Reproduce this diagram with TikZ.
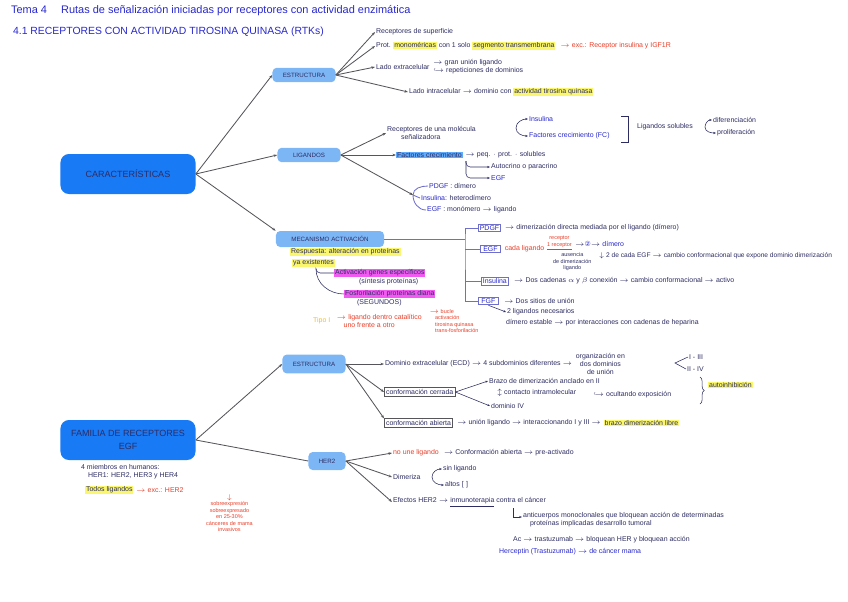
\documentclass[tikz,border=0pt]{standalone}
\usepackage{fontspec}
\setmainfont{Liberation Sans}
\newfontfamily\symfont{DejaVu Sans}
\usepackage{xcolor}
\usepackage{tikz}
\usetikzlibrary{arrows.meta, positioning, calc, decorations.pathreplacing}
\definecolor{inkdark}{RGB}{45,45,100}
\definecolor{inkblue}{RGB}{40,40,205}
\definecolor{inkred}{RGB}{232,62,40}
\definecolor{inkorange}{RGB}{240,190,40}
\definecolor{boxblue}{RGB}{25,122,245}
\definecolor{lightbox}{RGB}{125,182,245}
\definecolor{hlyellow}{RGB}{250,246,110}
\definecolor{hlmagenta}{RGB}{240,90,240}
\definecolor{hlblue}{RGB}{95,170,250}
\definecolor{treepurple}{RGB}{110,110,205}
\definecolor{linegray}{RGB}{85,85,90}
\newcommand{\notesize}{\fontsize{4.95}{5.8}\selectfont}
\newcommand{\tinysize}{\fontsize{3.9}{4.6}\selectfont}
\newcommand{\hly}[1]{{\setlength{\fboxsep}{0.6pt}\colorbox{hlyellow}{#1}}}
\tikzset{
  bigbox/.style={rectangle, fill=boxblue, rounded corners=6pt,
    minimum width=3.375cm, minimum height=1.0cm, align=center,
    text=inkdark, font=\fontsize{6.4}{9}\selectfont},
  subbox/.style={rectangle, fill=lightbox, rounded corners=3pt,
    minimum width=1.575cm, minimum height=0.36cm, align=center,
    text=inkdark, font=\fontsize{4.4}{5}\selectfont},
  note/.style={anchor=west, inner sep=0.6pt, font=\notesize, text=inkdark},
  rednote/.style={note, text=inkred},
  bluenote/.style={note, text=inkblue},
  hlnote/.style={note, fill=hlyellow},
  magnote/.style={note, fill=hlmagenta},
  framebox/.style={note, draw=linegray, line width=0.5pt, inner sep=1.2pt},
  tagbox/.style={note, draw=treepurple, text=inkblue, line width=0.6pt,
    inner sep=1pt, minimum width=0.5cm},
  branch/.style={-{Stealth[length=2.5pt]}, color=linegray, line width=0.6pt},
  arrow/.style={-{Stealth[length=2pt]}, color=inkdark, line width=0.4pt},
  treeline/.style={color=treepurple, line width=0.6pt},
  line/.style={color=inkdark, line width=0.4pt}
}
\begin{document}
\begin{tikzpicture}[x=0.025cm, y=-0.025cm]
  \useasboundingbox (0,0) rectangle (848,601);

  % Titles
  \node[note, text=inkblue, font=\fontsize{7.8}{9}\selectfont] (tema) at (10,11)
    {Tema 4 \quad Rutas de señalización iniciadas por receptores con actividad enzimática};
  \node[note, text=inkblue, font=\fontsize{7.4}{9}\selectfont] (seccion) at (12,32)
    {4.1 RECEPTORES CON ACTIVIDAD TIROSINA QUINASA (RTKs)};

  % Main boxes
  \node[bigbox] (carac) at (128,174) {CARACTERÍSTICAS};
  \node[bigbox] (familia) at (128,440) {FAMILIA DE RECEPTORES\\EGF};

  \node[subbox] (estr) at (304,75) {ESTRUCTURA};
  \node[subbox] (lig) at (309,155) {LIGANDOS};
  \node[subbox, minimum width=2.7cm, minimum height=0.4cm] (meca) at (330,239) {MECANISMO ACTIVACIÓN};
  \node[subbox, minimum height=0.47cm] (estr2) at (314,364) {ESTRUCTURA};
  \node[subbox, minimum width=0.925cm, minimum height=0.45cm] (her2) at (327,461) {HER2};

  \draw[branch] (carac.east) -- (estr.west);
  \draw[branch] (carac.east) -- (lig.west);
  \draw[branch] (carac.east) -- (meca.north west);
  \draw[branch] (familia.east) -- (estr2.west);
  \draw[line, color=linegray, line width=0.6pt] (familia.east) -- (her2.west);

  % Estructura
  \node[note] (sup) at (375,32) {Receptores de superficie};
  \node[note] (mono) at (375,46) {Prot. \hly{monoméricas} con 1 solo \hly{segmento transmembrana}};
  \node[rednote, right=2pt of mono] (exc) {$\to$ exc.: Receptor insulina y IGF1R};
  \node[note] (extra) at (375,67) {Lado extracelular};
  \node[note, right=1pt of extra, align=left] (extradet) {$\to$ gran unión ligando\\$\hookrightarrow$ repeticiones de dominios};
  \node[note] (intra) at (408,92) {Lado intracelular $\to$ dominio con \hly{actividad tirosina quinasa}};
  \foreach \n in {sup, mono, extra, intra}
    \draw[branch] (estr.east) -- (\n.west);

  % Ligandos
  \node[note, align=left] (molec) at (386,133) {Receptores de una molécula\\\quad\quad señalizadora};
  \coordinate (ligfork) at (516,128);
  \node[bluenote] (insul) at (528,119) {Insulina};
  \node[bluenote] (fcrec) at (528,136) {Factores crecimiento (FC)};
  \draw[arrow] (ligfork) to[out=90, in=180] (insul.west);
  \draw[arrow] (ligfork) to[out=-90, in=180] (fcrec.west);
  \draw[line] (621,116) -- (628,116) -- (628,142) -- (621,142);
  \node[note] (solub) at (636,127) {Ligandos solubles};
  \coordinate (solfork) at (705,127);
  \node[note] (difer) at (712,120) {diferenciación};
  \node[note] (prolif) at (716,133) {proliferación};
  \draw[arrow] (solfork) to[out=90, in=180] (difer.west);
  \draw[arrow] (solfork) to[out=-90, in=180] (prolif.west);

  \node[note, fill=hlblue] (factcrec) at (396,155) {Factores crecimiento};
  \node[note, right=1pt of factcrec] (peq) {$\to$ peq. $\cdot$ prot. $\cdot$ solubles};
  \node[note] (auto) at (490,167) {Autocrino o paracrino};
  \node[bluenote] (egf) at (490,178) {EGF};
  \coordinate (fcfork) at (466,161);
  \draw[arrow, rounded corners=3pt] (fcfork) |- (auto.west);
  \draw[arrow, rounded corners=3pt] (fcfork) |- (egf.west);

  \node[note] (pdgf) at (428,186) {\textcolor{inkblue}{PDGF} : dímero};
  \node[note] (inshet) at (420,198) {\textcolor{inkblue}{Insulina}: heterodímero};
  \node[note] (egfmono) at (426,210) {\textcolor{inkblue}{EGF} : monómero $\to$ ligando};
  \coordinate (ligbr) at (413,195);
  \draw[treeline] (pdgf.west) to[out=180, in=90] (ligbr) to[out=-90, in=180] (egfmono.west);
  \draw[treeline] (ligbr) -- (inshet.west);
  \draw[branch] (lig.east) -- (ligbr);
  \draw[branch] (lig.east) -- (molec.west);
  \draw[branch] (lig.east) -- (factcrec.west);

  % Mecanismo de activacion
  \node[hlnote] (resp) at (290,252) {Respuesta: alteración en proteínas};
  \node[hlnote] (respb) at (292,263) {ya existentes};
  \node[magnote] (activ) at (334,273) {Activación genes específicos};
  \node[note] (activb) at (358,282) {(síntesis proteínas)};
  \node[magnote] (fosfo) at (344,294) {Fosforilación proteínas diana};
  \node[note] (fosfob) at (356,303) {(SEGUNDOS)};
  \coordinate (respfork) at (316,269);
  \draw[line, rounded corners=3pt] (respfork) |- (activ.west);
  \draw[line] (respfork) to[out=-90, in=180] (fosfo.west);

  \node[note, text=inkorange] (tipo) at (312,321) {Tipo I};
  \node[rednote, align=left, right=3pt of tipo] (tipodet)
    {$\to$ ligando dentro catalítico\\\quad uno frente a otro};
  \node[rednote, align=left, font=\tinysize, right=4pt of tipodet] (tipolist)
    {$\to$ bucle\\\quad activación\\\quad tirosina quinasa\\\quad trans-fosforilación};

  \coordinate (mjoin) at (465,239);
  \node[tagbox] (tpdgf) at (478,228) {PDGF};
  \node[tagbox] (tegf) at (480,249) {EGF};
  \node[tagbox] (tins) at (481,281) {Insulina};
  \node[tagbox] (tfgf) at (478,301) {FGF};
  \draw[treeline] (meca.east) -- (mjoin);
  \draw[treeline] (tpdgf.west) -| (mjoin) |- (tfgf.west);
  \draw[treeline] (mjoin |- tegf.west) -- (tegf.west);
  \draw[treeline] (mjoin |- tins.west) -- (tins.west);

  \node[note, right=2pt of tpdgf] (pdgfdet) {$\to$ dimerización directa mediada por el ligando (dímero)};
  \node[rednote, right=2pt of tegf] (egfcada) {cada ligando};
  \node[rednote, align=center, font=\tinysize] (egfrec) at (546,243) {receptor\\\underline{1 receptor}};
  \node[note] (egfdim) at (574,244) {$\to${\symfont\textcolor{inkblue}{②}}$\to$ \textcolor{inkblue}{dímero}};
  \node[note, align=center, font=\tinysize] (egfaus) at (552,262) {ausencia\\de dimerización\\ligando};
  \node[note, font=\fontsize{4.7}{5.6}\selectfont] (egfexp) at (598,256) {$\downarrow$ 2 de cada EGF $\to$ cambio conformacional que expone dominio dimerización};
  \node[note, right=3pt of tins] (insdet) {$\to$ Dos cadenas $\alpha$ y $\beta$ conexión $\to$ cambio conformacional $\to$ activo};
  \node[note, right=3pt of tfgf] (fgfdet) {$\to$ Dos sitios de unión};
  \node[note] (fgflig) at (506,312) {2 ligandos necesarios};
  \node[note] (fgfdim) at (505,323) {dímero estable $\to$ por interacciones con cadenas de heparina};
  \draw[arrow] (tfgf.south) -- (fgflig.west);

  % Familia de receptores EGF
  \node[note, align=left] (miembros) at (80,472) {4 miembros en humanos:\\\quad HER1: HER2, HER3 y HER4};
  \node[hlnote] (todos) at (85,490) {Todos ligandos};
  \node[rednote, right=1pt of todos] (excher) {$\to$ exc.: HER2};
  \node[rednote, align=center, font=\tinysize] (sobre) at (205,513)
    {$\downarrow$\\sobreexpresión\\sobreexpresado\\en 25-30\%\\cánceres de mama\\invasivos};

  % Estructura (EGF)
  \node[note] (ecd) at (384,364) {Dominio extracelular (ECD) $\to$ 4 subdominios diferentes $\to$};
  \node[note, align=center, right=1pt of ecd] (organ) {organización en\\dos dominios\\de unión};
  \coordinate (ecdfork) at (675,363);
  \node[note] (ecdI) at (688,357) {I - III};
  \node[note] (ecdII) at (686,369) {II - IV};
  \draw[line] (ecdI.west) -- (ecdfork) -- (ecdII.west);

  \node[framebox] (cerrada) at (384,392) {conformación cerrada};
  \node[note] (brazo) at (488,381) {Brazo de dimerización anclado en II};
  \node[note] (contacto) at (496,393) {$\updownarrow$ contacto intramolecular};
  \node[note] (domIV) at (490,406) {dominio IV};
  \node[note] (ocult) at (592,395) {$\hookrightarrow$ ocultando exposición};
  \draw[arrow] (cerrada.east) -- (brazo.west);
  \draw[arrow] (cerrada.east) -- (domIV.west);
  \draw[line, decorate, decoration={brace, amplitude=3pt}] (700,377) -- (700,404);
  \node[hlnote] (autoinh) at (708,385) {autoinhibición};

  \node[framebox] (abierta) at (384,423) {conformación abierta};
  \node[note, right=2pt of abierta] (abdet) {$\to$ unión ligando $\to$ interaccionando I y III $\to$};
  \node[hlnote, right=1pt of abdet] (libre) {brazo dimerización libre};
  \draw[branch] (estr2.east) -- (ecd.west);
  \draw[branch] (estr2.east) -- (cerrada.west);
  \draw[branch] (estr2.east) -- (abierta.north west);

  % HER2
  \node[rednote] (noune) at (392,453) {no une ligando};
  \node[note, right=2pt of noune] (noundet) {$\to$ Conformación abierta $\to$ pre-activado};
  \node[note] (dimeriza) at (392,477) {Dimeriza};
  \coordinate (dimfork) at (432,477);
  \node[note] (sinlig) at (442,469) {sin ligando};
  \node[note] (altos) at (444,485) {altos [\,\,]};
  \draw[arrow] (dimfork) to[out=90, in=180] (sinlig.west);
  \draw[arrow] (dimfork) to[out=-90, in=180] (altos.west);
  \node[note] (efectos) at (392,502) {Efectos HER2 $\to$ \underline{inmunoterapia} contra el cáncer};
  \draw[branch] (her2.east) -- (noune.west);
  \draw[branch] (her2.east) -- (dimeriza.west);
  \draw[branch] (her2.east) -- (efectos.west);

  \node[note, align=left] (anticu) at (522,520)
    {anticuerpos monoclonales que bloquean acción de determinadas\\\quad proteínas implicadas desarrollo tumoral};
  \coordinate (inmuno) at (513,508);
  \draw[arrow] (inmuno) |- (anticu.west |- 0,517);
  \node[note] (ac) at (512,540) {Ac $\to$ trastuzumab $\to$ bloquean HER y bloquean acción};
  \node[bluenote] (hercep) at (498,552) {Herceptin (Trastuzumab) $\to$ de cáncer mama};
\end{tikzpicture}
\end{document}
